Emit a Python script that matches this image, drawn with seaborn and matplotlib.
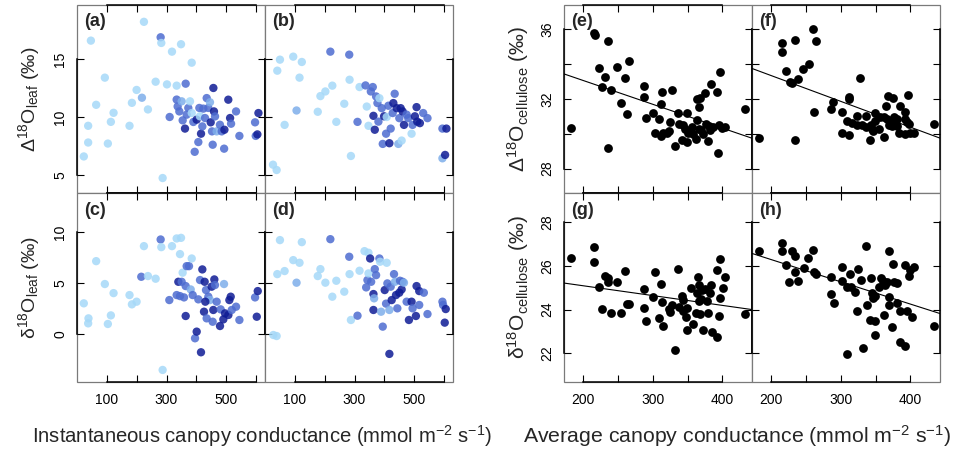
import numpy as np
import pandas as pd
import matplotlib
matplotlib.use("Agg")
import matplotlib.pyplot as plt
import seaborn as sns

sns.set_style("white")
plt.rcParams["font.family"] = ["Liberation Sans", "DejaVu Sans"]
plt.rcParams["mathtext.fontset"] = "custom"
plt.rcParams["mathtext.rm"] = "Liberation Sans"
plt.rcParams["mathtext.it"] = "Liberation Sans:italic"
plt.rcParams["mathtext.bf"] = "Liberation Sans:bold"

# ---------------- data ----------------
# colour level: 0 light, 1 light-medium, 2 medium, 3 dark
a_x = [22.8, 37.4, 37.4, 46.5, 64.2, 93.3, 103.4, 113.5, 122.5, 176, 184, 199.7, 217.6, 224.3, 237.7, 263.5,
       280.3, 282.5, 287, 301.5, 310.5, 318.3, 334, 348.6, 364.2, 384.4, 334, 337.3, 342.9, 350.7, 354.1, 361.9,
       367.5, 373, 378.7, 384.4, 389.9, 394.4, 401, 406.6, 410, 412, 415.6, 420, 423.4, 429, 434.6, 440, 445.6,
       448, 452.4, 454.7, 457, 459, 462.6, 468, 479, 485, 493, 494, 507, 513, 516.3, 533, 544.2, 596.7, 599,
       604.5, 608]
a_y = [6.6, 9.24, 7.8, 16.58, 11.05, 13.39, 7.71, 9.58, 10.36, 9.24, 11.22, 12.33, 11.66, 18.2, 10.65, 13.04,
       16.87, 16.38, 4.74, 12.81, 10.0, 15.63, 12.7, 16.27, 12.87, 14.68, 11.5, 10.91, 10.48, 11.35, 9.71, 9.0,
       10.2, 10.78, 11.35, 10.34, 9.57, 7.0, 9.77, 7.84, 10.78, 10.06, 8.56, 9.19, 10.72, 9.91, 11.63, 10.78,
       11.27, 9.54, 8.76, 7.61, 12.5, 10.48, 10.05, 8.76, 9.33, 8.76, 7.27, 8.9, 11.49, 9.91, 9.42, 10.48, 8.37,
       9.54, 8.37, 8.5, 10.34]
a_lev = [0, 0, 0, 0, 0, 0, 0, 0, 0, 0, 0, 0, 1, 0, 0, 0,
         2, 0, 0, 0, 2, 0, 0, 0, 2, 0, 2, 2, 2, 1, 2, 3,
         2, 2, 0, 0, 2, 2, 3, 2, 2, 0, 3, 2, 2, 2, 2, 2, 1,
         3, 2, 2, 3, 3, 2, 1, 2, 2, 2, 3, 3, 3, 2, 2, 2, 2, 2,
         3, 3]

b_x = [26.8, 39, 41.2, 50.1, 65.7, 94.6, 105.7, 115.7, 123.4, 176.8, 185.7, 202.3, 219, 225.6, 239, 265.6,
       282.3, 283.4, 287.9, 310, 316.8, 336.8, 341, 346.8, 354.6, 361.2, 363.4, 367.9, 372.3, 376.8, 383.4,
       380.1, 391.2, 394.6, 399, 407.9, 405.7, 413.5, 416.8, 421.2, 427.9, 430.1, 434.6, 441.2, 446.8, 450.1,
       454.6, 457.9, 461.2, 465.7, 474.6, 480.1, 491.2, 494.6, 502.3, 507.9, 510.1, 519, 530.1, 544.5, 594.6,
       607.9, 594.6, 603.5]
b_y = [5.89, 5.43, 13.99, 14.94, 9.32, 15.2, 10.56, 13.39, 14.74, 10.45, 11.8, 12.2, 15.63, 12.7, 9.58, 11.14,
       15.37, 13.21, 6.64, 9.58, 12.58, 12.72, 10.9, 9.24, 12.2, 12.58, 10.1, 8.9, 11.77, 11.2, 11.62,
       9.6, 10.76, 7.68, 10.06, 10.0, 8.56, 10.97, 7.74, 9.0, 10.34, 11.2, 12.0, 10.76, 7.68, 9.9,
       10.76, 7.97, 10.48, 9.32, 10.2, 9.9, 8.56, 9.32, 10.06, 10.85, 9.6, 9.47, 10.34, 9.9, 9.0,
       9.0, 6.44, 6.73]
b_lev = [0, 0, 0, 0, 0, 0, 1, 0, 0, 0, 0, 0, 2, 0, 0, 0,
         2, 0, 0, 2, 0, 2, 0, 0, 2, 2, 3, 3, 2, 2, 0,
         2, 2, 2, 3, 0, 2, 2, 3, 2, 2, 3, 2, 3, 1, 2,
         3, 0, 3, 3, 2, 2, 0, 2, 3, 3, 3, 3, 2, 2, 2,
         3, 1, 3]

c_x = [22.8, 38.5, 37.4, 64.2, 93.3, 103.4, 113.5, 122.5, 176, 184, 199.7, 215.4, 224.3, 237.7, 263.5, 280.3,
       282.5, 287, 309.4, 318.3, 334, 348.6, 345.2, 334, 339.6, 350.7, 354, 345.2, 358.6, 364.2, 367.5, 375.3,
       384.4, 381, 364.2, 387.7, 395.5, 401.1, 406.6, 412.2, 415.5, 420, 425.6, 427.8, 432.3, 434.5, 440.1,
       445.6, 451.2, 454.6, 456.8, 460.2, 462.4, 468, 479.2, 481.5, 490.4, 492.7, 496.1, 507.3, 510.6, 515.1,
       518.5, 533, 544.2, 596.7, 602.4, 605.7, 430]
c_y = [3.0, 1.53, 1.04, 7.13, 4.89, 0.98, 1.82, 4.0, 3.81, 2.9, 3.16, 5.6, 8.6, 5.67, 5.41, 9.25,
       8.5, -3.52, 3.32, 8.6, 9.35, 9.41, 7.82, 3.81, 5.11, 5.11, 6.0, 3.71, 3.58, 4.69, 6.64, 6.64,
       7.39, 4.36, 1.76, 3.81, -0.42, 0.23, 3.39, 5.28, -1.79, 6.32, 2.18, 5.11, 4.3, 1.53, 3.65,
       3.32, 4.63, 1.2, 2.35, 5.34, 4.79, 3.16, 0.78, 2.41, 1.43, 4.89, 2.02, 1.86, 3.32, 3.65,
       2.35, 2.67, 1.37, 3.58, 1.69, 4.2, 3.16]
c_lev = [0, 0, 0, 0, 0, 0, 0, 0, 0, 0, 0, 2, 0, 0, 0, 2,
         0, 0, 2, 0, 0, 0, 0, 2, 3, 2, 0, 2, 2, 2, 2, 2,
         0, 1, 3, 2, 2, 3, 2, 2, 3, 3, 3, 3, 2, 2, 2,
         1, 3, 2, 3, 3, 2, 2, 3, 2, 3, 1, 3, 3, 3, 3,
         2, 2, 2, 2, 3, 3, 3]

d_x = [27.9, 39, 41.2, 50.1, 65.7, 94.6, 105.7, 115.7, 123.4, 176.8, 185.7, 202.3, 219, 225.6, 239, 265.6,
       282.3, 283.4, 287.9, 310, 316.8, 333.4, 346.8, 339, 343.3, 346.8, 352.3, 355.7, 363.4, 363.4, 367.9,
       372.3, 365.6, 383.4, 385.6, 389, 394.6, 401.2, 405.7, 407.9, 410.1, 416.8, 416.8, 421.2, 424.5, 432.3,
       435.7, 439, 443.5, 450.1, 452.4, 457.9, 461.2, 465.7, 474.6, 482.3, 491.2, 494.6, 505.7, 507.9, 516.8,
       516.8, 532.3, 544.5, 594.6, 596.8, 605.6, 602.3]
d_y = [-0.1, -0.2, 5.86, 9.19, 6.16, 7.23, 5.02, 6.97, 8.99, 5.67, 6.35, 5.02, 9.28, 3.65, 5.21, 4.14,
       7.56, 5.86, 1.37, 1.79, 6.19, 8.11, 7.95, 4.56, 5.28, 5.93, 7.39, 5.11, 3.91, 2.35, 6.35,
       5.76, 3.49, 7.39, 7.07, 2.18, 0.72, 4.3, 2.97, 6.97, 4.95, -1.95, 2.35, 4.63, 3.32, 5.86,
       5.11, 3.81, 2.51, 4.04, 5.21, 4.36, 5.11, 5.02, 3.16, 1.37, 3.16, 2.51, 1.76, 4.69, 2.84,
       4.2, 4.04, 1.95, 3.16, 2.84, 2.44, 1.11]
d_lev = [0, 0, 0, 0, 0, 0, 1, 0, 0, 0, 0, 0, 2, 0, 0, 0,
         2, 0, 0, 2, 0, 0, 0, 2, 2, 0, 3, 2, 3, 3, 2,
         2, 1, 2, 0, 1, 2, 3, 2, 0, 2, 3, 1, 2, 3, 2,
         1, 3, 2, 3, 2, 3, 2, 1, 2, 3, 3, 2, 3, 3, 2,
         3, 2, 2, 2, 2, 3, 3]

e_x = [182.8, 216.2, 216.7, 222.9, 227.6, 231.5, 235.3, 235.3, 239.6, 248.6, 253.9, 260.5, 262.9, 265.3,
       286.7, 286.7, 290.1, 301, 303.4, 309.6, 311.5, 313.4, 312, 315.3, 321, 323.9, 324.8, 327.7, 332.5,
       335.8, 337.3, 341.5, 343.9, 346.3, 348.7, 349.7, 351.1, 353.5, 355.8, 358.2, 362, 363, 363.9, 365.9,
       366.8, 367.7, 369.7, 371.6, 374.9, 376.4, 379.7, 380.7, 382.1, 384, 385.9, 391.6, 393.5, 394.5, 396.4,
       398.7, 403.5, 432.6]
e_y = [30.33, 35.81, 35.66, 33.76, 32.71, 33.24, 29.19, 35.31, 32.52, 33.82, 31.75, 33.21, 31.12, 34.16,
       32.75, 32.1, 30.89, 31.18, 30.03, 30.83, 31.73, 32.4, 29.88, 30.03, 30.07, 30.16, 30.68, 32.5, 29.3,
       31.21, 30.55, 29.65, 30.49, 30.26, 29.55, 31.18, 30.03, 30.16, 30.41, 29.97, 29.68, 31.98, 30.79, 30.3,
       31.56, 32.08, 30.22, 29.97, 32.33, 30.55, 29.59, 30.45, 30.22, 32.84, 30.4, 32.42, 28.88, 30.49, 33.55,
       30.35, 30.37, 31.41]

f_x = [182.2, 214.9, 214.9, 221.6, 226.9, 230.3, 233.7, 234.6, 238.9, 246.2, 253.8, 260.1, 264.4, 262,
       285.6, 288.9, 301.4, 302.4, 309.1, 311.1, 312, 312, 316.8, 322.6, 324, 327.9, 330.3, 336.1, 336.1,
       341.8, 342.8, 344.7, 346.6, 348.6, 349.5, 355.3, 356.3, 362, 362, 364.9, 366.8, 368.2, 369.7, 371.6,
       373.6, 375.5, 376.9, 378.4, 380.3, 381.3, 384.1, 385.1, 391.8, 392.8, 394.7, 396.6, 392.8, 397.6,
       399.5, 405.3, 433.2]
f_y = [29.74, 35.2, 34.68, 33.59, 32.96, 32.9, 35.37, 29.65, 33.13, 33.74, 33.99, 36.0, 35.31, 31.23,
       31.43, 31.85, 31.23, 30.03, 30.72, 32.13, 31.98, 29.91, 30.6, 30.49, 31.02, 33.21, 30.49, 31.02, 30.37,
       29.65, 30.49, 30.26, 30.14, 30.72, 31.21, 30.26, 30.99, 29.8, 30.99, 31.6, 30.87, 32.17, 30.49, 30.68,
       30.45, 32.06, 30.99, 30.6, 30.83, 30.45, 30.07, 31.6, 31.25, 30.87, 30.68, 32.21, 29.99, 30.55,
       30.07, 30.07, 30.55]

g_x = [182.8, 216.2, 216.2, 222.9, 227.6, 231.5, 235.3, 235.3, 239.6, 248.6, 253.9, 260.5, 262.9, 265.3,
       286.7, 286.7, 290.1, 301, 303.4, 309.6, 311.5, 313.4, 315.3, 323, 324.9, 327.7, 332.5, 336.3, 337.3,
       342, 343, 343.9, 348.2, 348.7, 349.7, 354.4, 358.2, 362, 363.9, 364.9, 365.9, 366.3, 367.8, 368.7,
       370.1, 372.5, 374.4, 378.2, 379.7, 382.1, 384, 384.4, 391.6, 392.5, 394.5, 396.4, 396.4, 400.2, 404,
       432.6]
g_y = [26.37, 26.87, 26.2, 25.05, 24.02, 25.53, 25.44, 25.24, 23.83, 25.28, 23.83, 25.77, 24.26, 24.26,
       24.95, 24.06, 23.48, 24.58, 25.73, 23.6, 25.19, 24.35, 23.25, 24.02, 23.89, 24.21, 22.15, 25.86, 24.11,
       24.63, 24.44, 23.95, 23.68, 23.04, 24.06, 24.99, 23.34, 23.83, 24.75, 25.51, 25.13, 24.37, 23.8, 24.47,
       24.9, 23.04, 24.93, 24.4, 23.86, 24.75, 25.13, 22.99, 22.76, 25.82, 23.71, 26.31, 24.52, 24.98, 25.48,
       23.8]

h_x = [182.2, 214.9, 214.9, 221.6, 225.5, 229.8, 234.1, 234.1, 238.9, 247.1, 253.4, 260.1, 262, 264.9,
       286.1, 286.1, 290.4, 301.4, 302.4, 309.1, 309.6, 312.9, 315.3, 320.1, 324, 325, 328.4, 331.7, 336.1,
       337.6, 341.4, 343.3, 344.7, 345.7, 348.6, 348.6, 349.1, 355.3, 357.2, 361, 362.5, 363.9, 365.9, 368.7,
       368.7, 369.2, 373.1, 375.5, 376.9, 380.3, 381.3, 385.1, 385.1, 392.3, 391.8, 395.6, 397.6, 399.5,
       401.9, 405.3, 433.2]
h_y = [26.69, 27.04, 26.69, 26.06, 25.24, 26.7, 26.46, 25.73, 25.33, 25.89, 26.37, 26.73, 25.74, 25.63,
       25.48, 24.72, 24.29, 25.33, 25.94, 21.97, 25.02, 25.63, 25.05, 24.82, 23.95, 25.86, 25.36, 22.24, 26.89,
       24.21, 23.53, 25.44, 24.75, 24.52, 23.47, 22.84, 24.6, 25.02, 25.44, 25.33, 23.76, 25.13, 25.28, 26.7,
       24.56, 24.21, 23.22, 26.09, 25.24, 24.29, 25.21, 23.95, 22.53, 26.05, 22.31, 23.95, 25.54, 25.79,
       23.65, 25.94, 23.25]

# linear fits (intercept, slope) for panels e, f, g, h
fit_intercept = {"e": 35.80, "f": 36.31, "g": 25.99, "h": 28.33}
fit_slope = {"e": -0.01368, "f": -0.01482, "g": -0.0045, "h": -0.0102}

panel_labels = ["(a)", "(b)", "(c)", "(d)", "(e)", "(f)", "(g)", "(h)"]
left_xticks = [100, 200, 300, 400, 500, 600]
left_xticklabels = ["100", "", "300", "", "500", ""]
right_xticks = [200, 250, 300, 350, 400]
right_xticklabels = ["200", "", "300", "", "400"]
ab_yticks = [5, 10, 15]
cd_yticks = [0, 5, 10]
ef_yticks = [28, 30, 32, 34, 36]
ef_yticklabels = ["28", "", "32", "", "36"]
gh_yticks = [22, 24, 26, 28]

level_colors = {0: "#a6d9f8", 1: "#7eaeea", 2: "#4d6cd0", 3: "#0f1c95"}

# ---------------- layout ----------------
W, H = 955, 449
fig = plt.figure(figsize=(W / 100, H / 100), dpi=100)


def rect(x0, x1, y0, y1):
    return [x0 / W, 1 - y1 / H, (x1 - x0) / W, (y1 - y0) / H]


boxes = {
    "a": (77, 265, 5, 193), "b": (265, 453, 5, 193),
    "c": (77, 265, 193, 382), "d": (265, 453, 193, 382),
    "e": (564, 752, 5, 193), "f": (752, 940, 5, 193),
    "g": (564, 752, 193, 382), "h": (752, 940, 193, 382),
}
axs = {k: fig.add_axes(rect(*v)) for k, v in boxes.items()}

left_data = {"a": (a_x, a_y, a_lev), "b": (b_x, b_y, b_lev),
             "c": (c_x, c_y, c_lev), "d": (d_x, d_y, d_lev)}
right_data = {"e": (e_x, e_y), "f": (f_x, f_y), "g": (g_x, g_y), "h": (h_x, h_y)}

for k, (x, y, lev) in left_data.items():
    ax = axs[k]
    df = pd.DataFrame({"x": x, "y": y, "lev": lev})
    sns.scatterplot(data=df, x="x", y="y", hue="lev", palette=level_colors, s=36,
                    alpha=0.85, linewidth=0, legend=False, ax=ax)
    ax.set_xlim(0, 630)
    ax.set_xticks(left_xticks)
    if k in "ab":
        ax.set_ylim(3.45, 19.65)
        ax.set_yticks(ab_yticks)
    else:
        ax.set_ylim(-4.7, 13.8)
        ax.set_yticks(cd_yticks)

for k, (x, y) in right_data.items():
    ax = axs[k]
    df = pd.DataFrame({"x": x, "y": y})
    sns.scatterplot(data=df, x="x", y="y", color="black", s=40, linewidth=0,
                    legend=False, ax=ax)
    ax.set_xlim(172.5, 442.5)
    xl = np.array(ax.get_xlim())
    ax.plot(xl, fit_intercept[k] + fit_slope[k] * xl, color="black", lw=0.8)
    ax.set_xlim(172.5, 442.5)
    ax.set_xticks(right_xticks)
    if k in "ef":
        ax.set_ylim(26.6, 37.4)
        ax.set_yticks(ef_yticks)
    else:
        ax.set_ylim(20.68, 29.34)
        ax.set_yticks(gh_yticks)

for i, k in enumerate("abcdefgh"):
    ax = axs[k]
    ax.set_xlabel("")
    ax.set_ylabel("")
    ax.tick_params(direction="in", length=5, width=0.8, top=True, right=True,
                   bottom=True, left=True, labelsize=10, pad=7, colors="black")
    ax.tick_params(axis="x", pad=8)
    # frame: grey box + black axis lines between first and last tick
    ax.patch.set_edgecolor("#7a7a7a")
    ax.patch.set_linewidth(0.9)
    xt = ax.get_xticks()
    yt = ax.get_yticks()
    for side in ["left", "right"]:
        ax.spines[side].set_bounds(yt[0], yt[-1])
    for side in ["top", "bottom"]:
        ax.spines[side].set_bounds(xt[0], xt[-1])
    for sp in ax.spines.values():
        sp.set_visible(True)
        sp.set_color("black")
        sp.set_linewidth(1.1)
    ax.text(0.04, 0.955, panel_labels[i], transform=ax.transAxes, fontsize=13,
            fontweight="bold", ha="left", va="top")
    if k in "abef":
        ax.set_xticklabels([])
    if k in "bdfh":
        ax.set_yticklabels([])

axs["c"].set_xticklabels(left_xticklabels)
axs["d"].set_xticklabels(left_xticklabels)
axs["g"].set_xticklabels(right_xticklabels)
axs["h"].set_xticklabels(right_xticklabels)
axs["a"].set_yticklabels([str(v) for v in ab_yticks])
axs["c"].set_yticklabels([str(v) for v in cd_yticks])
axs["e"].set_yticklabels(ef_yticklabels)
axs["g"].set_yticklabels([str(v) for v in gh_yticks])
for k in "aceg":
    for t in axs[k].get_yticklabels():
        t.set_rotation(90)
        t.set_va("center")

axs["a"].set_ylabel("Δ$^{18}$O$_{\\mathrm{leaf}}$ (‰)", fontsize=14, labelpad=8)
axs["c"].set_ylabel("δ$^{18}$O$_{\\mathrm{leaf}}$ (‰)", fontsize=14, labelpad=8)
axs["e"].set_ylabel("Δ$^{18}$O$_{\\mathrm{cellulose}}$ (‰)", fontsize=15, labelpad=7)
axs["g"].set_ylabel("δ$^{18}$O$_{\\mathrm{cellulose}}$ (‰)", fontsize=15, labelpad=7)

fig.text(262 / W, 1 - 436 / H, "Instantaneous canopy conductance (mmol m$^{-2}$ s$^{-1}$)",
         ha="center", va="center", fontsize=14.6)
fig.text(737 / W, 1 - 436 / H, "Average canopy conductance (mmol m$^{-2}$ s$^{-1}$)",
         ha="center", va="center", fontsize=15.3)

fig.savefig("out.png", dpi=100)
